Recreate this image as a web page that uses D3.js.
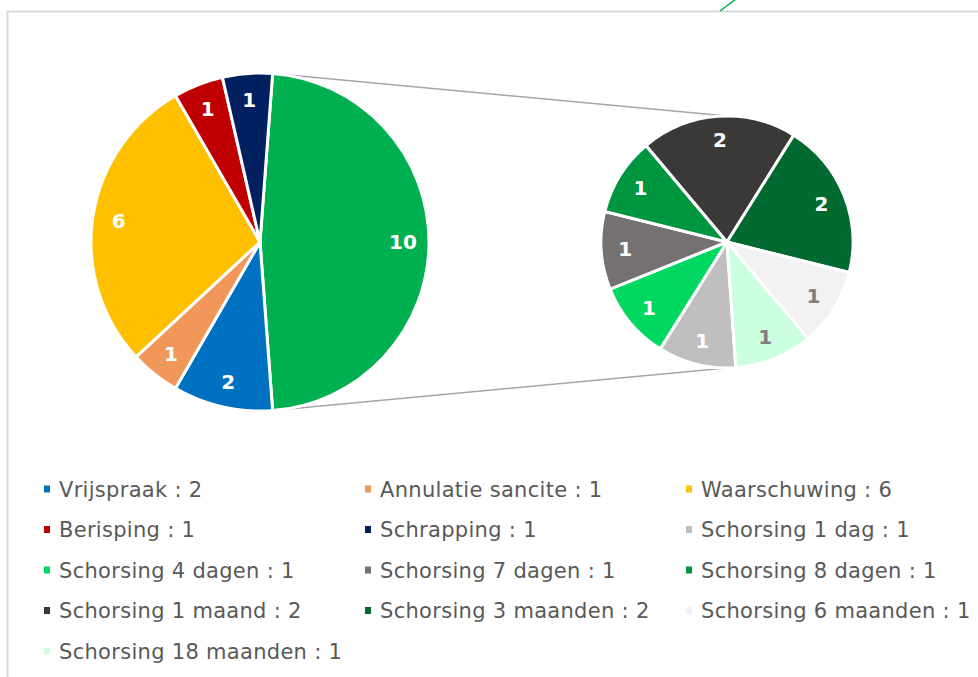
<!DOCTYPE html>
<html>
<head>
<meta charset="utf-8">
<script src="https://cdn.jsdelivr.net/npm/d3@7"></script>
<style>
  html, body { margin: 0; padding: 0; background: #fff; }
  svg { display: block; }
</style>
</head>
<body>
<div id="chart"></div>
<script>
// main pie categories
const mainCategories = ["Vrijspraak", "Annulatie sancite", "Waarschuwing", "Berisping", "Schrapping"];
const mainValues = [2, 1, 6, 1, 1];
const mainColors = ["#0070C0", "#F1975A", "#FFC000", "#C00000", "#002060"];

// secondary pie (schorsingen)
const subCategories = ["Schorsing 1 dag", "Schorsing 4 dagen", "Schorsing 7 dagen", "Schorsing 8 dagen",
  "Schorsing 1 maand", "Schorsing 3 maanden", "Schorsing 6 maanden", "Schorsing 18 maanden"];
const subValues = [1, 1, 1, 1, 2, 2, 1, 1];
const subColors = ["#BFBFBF", "#00D862", "#767171", "#00953F", "#3B3838", "#006A31", "#F2F2F2", "#CCFFDF"];
const subLabelColors = ["#fff", "#fff", "#fff", "#fff", "#fff", "#fff", "#7F7F7F", "#7F7F7F"];
const otherColor = "#00B050";

const width = 978, height = 677;
const svg = d3.select("#chart").append("svg")
  .attr("width", width)
  .attr("height", height);

// chart frame
svg.append("path")
  .attr("d", "M7.5,690 V11.5 H990")
  .attr("fill", "none")
  .attr("stroke", "#D9D9D9")
  .attr("stroke-width", 2);
svg.append("line")
  .attr("x1", 720).attr("y1", 11).attr("x2", 736).attr("y2", -1)
  .attr("stroke", "#00B050").attr("stroke-width", 1.5);

const otherTotal = d3.sum(subValues);
const mainData = [{name: "other", value: otherTotal, color: otherColor, label: "#fff"}]
  .concat(mainCategories.map((c, i) => ({name: c, value: mainValues[i], color: mainColors[i], label: "#fff"})));
const subData = subCategories.map((c, i) => ({name: c, value: subValues[i], color: subColors[i], label: subLabelColors[i]}));

const mainTotal = d3.sum(mainData, d => d.value);
const mainStart = Math.PI / 2 - Math.PI * otherTotal / mainTotal;
const subStart = 176 * Math.PI / 180;

const mainC = {x: 260, y: 242, r: 169};
const subC = {x: 727, y: 242, r: 126};

// connector lines (behind the pies)
const otherEdgeA = mainStart, otherEdgeB = mainStart + 2 * Math.PI * otherTotal / mainTotal;
const pt = (c, a, r) => [c.x + r * Math.sin(a), c.y - r * Math.cos(a)];
[[pt(mainC, otherEdgeA, mainC.r), [subC.x, subC.y - subC.r]],
 [pt(mainC, otherEdgeB, mainC.r), [subC.x, subC.y + subC.r]]].forEach(([a, b]) => {
  svg.append("line")
    .attr("x1", a[0]).attr("y1", a[1]).attr("x2", b[0]).attr("y2", b[1])
    .attr("stroke", "#A6A6A6").attr("stroke-width", 1.5);
});

function drawPie(data, c, start, labelR) {
  const pie = d3.pie().sort(null).value(d => d.value)
    .startAngle(start).endAngle(start + 2 * Math.PI);
  const arc = d3.arc().innerRadius(0).outerRadius(c.r);
  const labelArc = d3.arc().innerRadius(labelR).outerRadius(labelR);
  const g = svg.append("g").attr("transform", `translate(${c.x}, ${c.y})`);
  const arcs = g.selectAll("g").data(pie(data)).enter().append("g");
  arcs.append("path")
    .attr("d", arc)
    .attr("fill", d => d.data.color)
    .attr("stroke", "#fff")
    .attr("stroke-width", 3)
    .attr("stroke-linejoin", "round");
  arcs.append("text")
    .attr("transform", d => `translate(${labelArc.centroid(d)})`)
    .attr("text-anchor", "middle")
    .attr("dy", "0.36em")
    .text(d => d.data.value)
    .style("fill", d => d.data.label)
    .style("font-family", "Verdana, 'DejaVu Sans', sans-serif")
    .style("font-weight", "bold")
    .style("font-size", "20px");
}

drawPie(mainData, mainC, mainStart, 143);
drawPie(subData, subC, subStart, 102);

// legend, 3 columns
const legendItems = mainData.slice(1).concat(subData);
const colX = d3.scaleLinear().domain([0, 1]).range([59, 380]);
const rowY = d3.scaleLinear().domain([0, 1]).range([489, 529.5]);
const legend = svg.append("g").selectAll("g").data(legendItems).enter().append("g")
  .attr("transform", (d, i) => `translate(${colX(i % 3)}, ${rowY(Math.floor(i / 3))})`);
legend.append("rect")
  .attr("x", -15).attr("y", -3.5).attr("width", 6).attr("height", 7)
  .attr("fill", d => d.color);
legend.append("text")
  .attr("dy", "0.36em")
  .text(d => `${d.name} : ${d.value}`)
  .style("fill", "#595959")
  .style("font-family", "Verdana, 'DejaVu Sans', sans-serif")
  .style("font-size", "21px")
  .style("letter-spacing", "0.3px");
</script>
</body>
</html>
